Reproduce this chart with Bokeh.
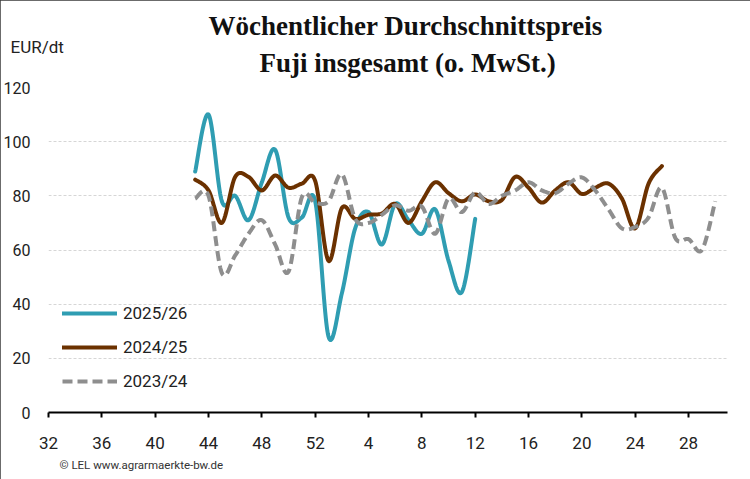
import numpy as np
from bokeh.plotting import figure
from bokeh.models import Range1d, FixedTicker, Legend, LegendItem, Title
from bokeh.embed import file_html
from bokeh.resources import INLINE

# ---------------- data ----------------
weeks = list(range(32, 53)) + list(range(1, 32))      # category positions 0..51
tick_weeks = [32, 36, 40, 44, 48, 52, 4, 8, 12, 16, 20, 24, 28]
y_ticks = [0, 20, 40, 60, 80, 100, 120]
start_week = 43

s2526 = [89, 110, 78, 80, 71, 85, 97, 72, 72, 78,
         28, 44, 68, 74, 62, 77, 71, 66, 75, 56, 44.5, 71.5]
s2425 = [86, 82, 70, 87, 87, 82, 87.5, 83, 84.5, 85.5,
         56, 75.5, 71.5, 73, 73.5, 77, 70, 78, 85, 81, 78, 80.5, 78, 78.5,
         87, 83, 77.5, 82, 85, 80.7, 83, 84.5, 79, 68, 84.5, 91]
s2324 = [79, 80, 51.5, 58, 66, 71, 62, 52, 79.5, 77.5,
         78, 88, 71.5, 70, 73, 76.5, 74.5, 76, 66, 79, 74, 81.3, 77, 80,
         82, 85, 82, 81, 84.5, 86.8, 82, 75, 68, 68.5, 72, 83, 64.5, 64, 60, 78]

series_labels = ["2025/26", "2024/25", "2023/24"]
series_values = [s2526, s2425, s2324]
series_colors = ["#2f9db2", "#6b3100", "#8e8e8e"]
series_dash = ["solid", "solid", "10 5"]

# ---------------- layout constants ----------------
W, H = 750, 479
FL, FR, FT, FB = 47, 727, 87, 412
XMAX = 50.92
YMAX = 120


def smooth(x, y, n=24):
    x = np.asarray(x, float)
    y = np.asarray(y, float)
    P = np.column_stack([x, y])
    P = np.vstack([P[0], P, P[-1]])
    out = []
    t = np.linspace(0, 1, n, endpoint=False)[:, None]
    for i in range(1, len(P) - 2):
        p0, p1, p2, p3 = P[i - 1], P[i], P[i + 1], P[i + 2]
        c1 = p1 + (p2 - p0) / 6.0
        c2 = p2 - (p3 - p1) / 6.0
        b = ((1 - t) ** 3) * p1 + 3 * ((1 - t) ** 2) * t * c1 + 3 * (1 - t) * t ** 2 * c2 + t ** 3 * p2
        out.append(b)
    out.append(P[-2][None, :])
    B = np.vstack(out)
    return B[:, 0], B[:, 1]


p = figure(width=W, height=H, x_range=Range1d(0, XMAX), y_range=Range1d(0, YMAX),
           output_backend="svg", toolbar_location=None,
           min_border_left=FL, min_border_right=W - FR,
           min_border_top=FT, min_border_bottom=H - FB)
p.outline_line_color = None
p.background_fill_color = "white"
p.border_fill_color = "white"
p.styles = {"outline": "1px solid #3a3a3a", "outline-offset": "-1px"}

# x axis
start_idx = weeks.index(start_week)
tick_pos = [weeks.index(w) for w in tick_weeks]
p.xaxis.ticker = FixedTicker(ticks=tick_pos)
p.xaxis.major_label_overrides = {pos: str(w) for pos, w in zip(tick_pos, tick_weeks)}
p.xaxis.axis_line_color = "black"
p.xaxis.axis_line_width = 2
p.xaxis.major_tick_line_color = "black"
p.xaxis.major_tick_line_width = 2
p.xaxis.major_tick_out = 5
p.xaxis.major_tick_in = 0
p.xaxis.minor_tick_line_color = None
p.xaxis.major_label_text_font = "Roboto"
p.xaxis.major_label_text_font_size = "17px"
p.xaxis.major_label_text_color = "#222222"
p.xaxis.major_label_standoff = 19

# y axis
p.yaxis.ticker = FixedTicker(ticks=y_ticks)
p.yaxis.axis_line_color = None
p.yaxis.major_tick_line_color = None
p.yaxis.minor_tick_line_color = None
p.yaxis.major_label_text_font = "Roboto"
p.yaxis.major_label_text_font_size = "16px"
p.yaxis.major_label_text_color = "#222222"
p.yaxis.major_label_standoff = 12

p.xgrid.visible = False
p.ygrid.ticker = FixedTicker(ticks=[v for v in y_ticks if v > 0])
p.ygrid.grid_line_color = "#d6d6d6"
p.ygrid.grid_line_dash = "3 2"
p.ygrid.grid_line_width = 1

items = []
for lab, vals, col, dash in zip(series_labels, series_values, series_colors, series_dash):
    xi = np.arange(start_idx, start_idx + len(vals))
    sx, sy = smooth(xi, vals)
    r = p.line(sx, sy, line_color=col, line_width=4, line_dash=dash,
               line_cap="round" if dash == "solid" else "butt", line_join="round")
    items.append(LegendItem(label=lab, renderers=[r]))

legend = Legend(items=items, location=(14, 21), glyph_width=55, glyph_height=20,
                label_height=20, label_standoff=6, spacing=14, padding=0, margin=0,
                border_line_color=None, background_fill_alpha=0,
                label_text_font="Roboto", label_text_font_size="17px",
                label_text_color="#222222")
p.add_layout(legend)

# titles (closest to the frame first)
p.add_layout(Title(text="Fuji insgesamt (o. MwSt.)", align="left", offset=211,
                   text_font="Liberation Serif", text_font_style="bold",
                   text_font_size="27px", text_color="#111111", standoff=20), "above")
p.add_layout(Title(text="Wöchentlicher Durchschnittspreis", align="left", offset=160,
                   text_font="Liberation Serif", text_font_style="bold",
                   text_font_size="27px", text_color="#111111", standoff=-10), "above")
p.add_layout(Title(text="EUR/dt", align="left", offset=-38,
                   text_font="Roboto", text_font_style="normal",
                   text_font_size="17px", text_color="#222222", standoff=-87), "above")
# footer
p.add_layout(Title(text="© LEL www.agrarmaerkte-bw.de", align="left", offset=11,
                   text_font="Roboto", text_font_style="normal",
                   text_font_size="11.5px", text_color="#333333", standoff=8), "below")

open("out.html", "w").write(file_html(p, INLINE))
